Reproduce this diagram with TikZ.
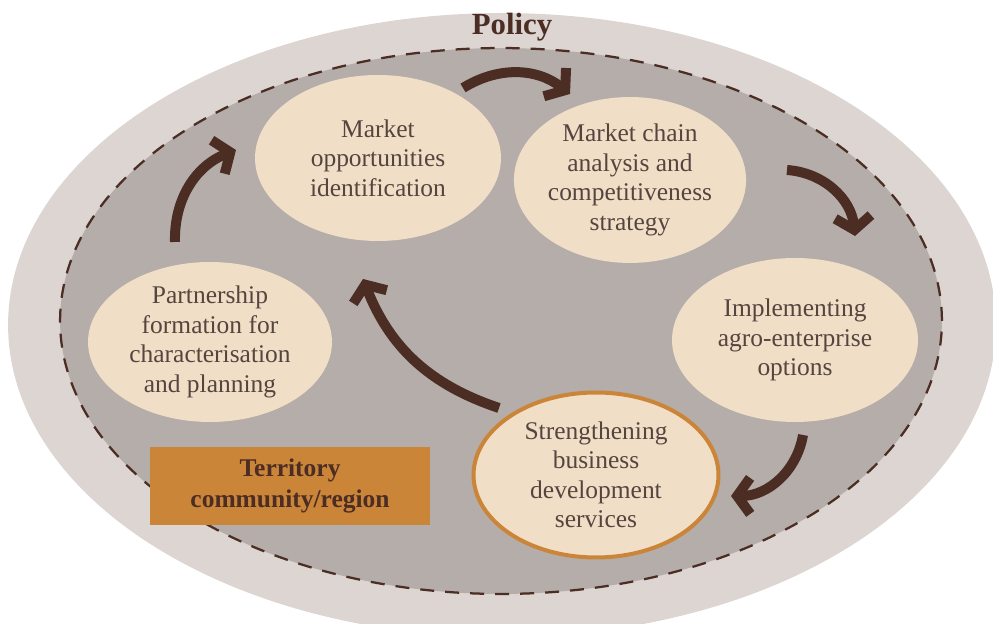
\documentclass[tikz,border=0pt]{standalone}
\usepackage{fontspec}
\setmainfont{Liberation Serif}
\usepackage{xcolor}
\usetikzlibrary{shapes,arrows.meta,positioning}

\definecolor{policygray}{HTML}{DCD5D2}
\definecolor{territorygray}{HTML}{B5ADA9}
\definecolor{stagefill}{HTML}{F1DEC6}
\definecolor{stagetext}{HTML}{55453F}
\definecolor{bdsorange}{HTML}{CB8538}
\definecolor{darkbrown}{HTML}{4B2D24}

\begin{document}
\begin{tikzpicture}[x=0.02cm, y=0.02cm,
    stage/.style={ellipse, fill=stagefill, text=stagetext, align=center, inner sep=0pt,
        font=\fontsize{14.5}{16.8}\selectfont},
    cycle/.style={draw=darkbrown, line width=0.2cm,
        -{Straight Barb[length=0.26cm, width=0.72cm]}}]
   \useasboundingbox (0,0) rectangle (993,624);
   \clip (0,0) rectangle (993,624);

   % Policy and territory ellipses
   \fill[policygray] (502,299) ellipse [x radius=9.88cm, y radius=6.24cm];
   \draw[fill=territorygray, draw=darkbrown, line width=0.045cm, dash pattern=on 0.28cm off 0.22cm]
       (501,303) ellipse [x radius=8.82cm, y radius=5.46cm];
   \node (policy) at (512,597) [text=darkbrown, font=\bfseries\fontsize{17.5}{20}\selectfont] {Policy};

   % Stages of the cycle
   \node (opport) at (378,466) [stage, minimum width=4.92cm, minimum height=3.32cm]
       {Market\\opportunities\\identification};
   \node (chain) at (630,444) [stage, minimum width=4.4cm, minimum height=3.32cm]
       {Market chain\\analysis and\\competitiveness\\strategy};
   \node (implem) at (795,284) [stage, minimum width=4.92cm, minimum height=3.28cm]
       {Implementing\\agro-enterprise\\options};
   \node (bds) at (596,149) [stage, draw=bdsorange, line width=0.08cm, minimum width=4.9cm, minimum height=3.3cm]
       {Strengthening\\business\\development\\services};
   \node (partner) at (210,282) [stage, minimum width=4.88cm, minimum height=3.2cm]
       {Partnership\\formation for\\characterisation\\and planning};

   % Territory label
   \node (territory) at (290,138) [fill=bdsorange, text=darkbrown, align=center,
       minimum width=5.6cm, minimum height=1.56cm, inner sep=0pt,
       font=\bfseries\fontsize{14.5}{17.5}\selectfont] {Territory\\community/region};

   % Arrows between stages
   \coordinate (a1) at (463,536);  \coordinate (b1) at (570,530);
   \coordinate (a2) at (787,454);  \coordinate (b2) at (855,388);
   \coordinate (a3) at (803,189);  \coordinate (b3) at (731,128);
   \coordinate (a4) at (499,216);  \coordinate (b4) at (363,345);
   \coordinate (a5) at (175,382);  \coordinate (b5) at (236,474);
   \draw[cycle] (a1) to[bend left=35] (b1);
   \draw[cycle] (a2) to[bend left=40] (b2);
   \draw[cycle] (a3) to[bend left=40] (b3);
   \draw[cycle] (a4) to[bend left=25] (b4);
   \draw[cycle] (a5) to[bend left=35] (b5);

\end{tikzpicture}
\end{document}
